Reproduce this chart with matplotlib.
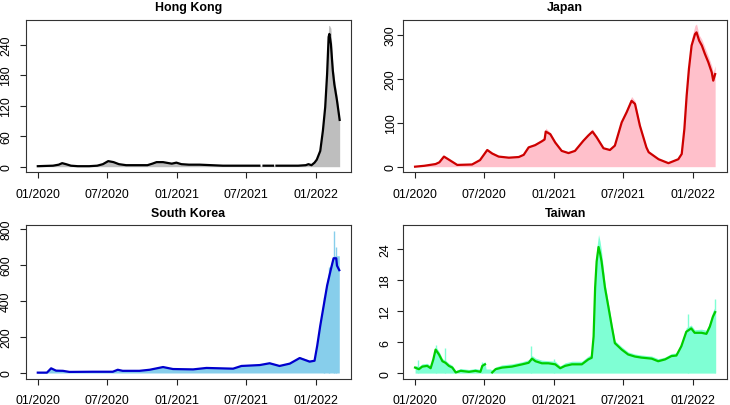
import numpy as np
import matplotlib
matplotlib.use("Agg")
import matplotlib.pyplot as plt

plt.rcParams['font.family'] = ['Liberation Sans', 'DejaVu Sans']

nan = np.nan

# ---------------- data ----------------
tick_dates = ['2020-01-01', '2020-07-01', '2021-01-01', '2021-07-01', '2022-01-01']
tick_labels = ['01/2020', '07/2020', '01/2021', '07/2021', '01/2022']

# Hong Kong
hk_dates = ['2020-01-01', '2020-01-20', '2020-02-10', '2020-02-25', '2020-03-05', '2020-03-15',
            '2020-03-28', '2020-04-15', '2020-05-15', '2020-06-05', '2020-06-20', '2020-07-04',
            '2020-07-18', '2020-08-01', '2020-08-20', '2020-09-15', '2020-10-15', '2020-10-28',
            '2020-11-08', '2020-11-25', '2020-12-10', '2020-12-18', '2020-12-30', '2021-01-12',
            '2021-02-01', '2021-03-01', '2021-04-01', '2021-05-01', '2021-06-01', '2021-07-01',
            '2021-08-05', '2021-08-10', '2021-08-16', '2021-09-10', '2021-09-15', '2021-09-19',
            '2021-10-15', '2021-11-15', '2021-12-05', '2021-12-12', '2021-12-20', '2021-12-28',
            '2022-01-03', '2022-01-12', '2022-01-19', '2022-01-25', '2022-01-30', '2022-02-03',
            '2022-02-05', '2022-02-09', '2022-02-14', '2022-02-18', '2022-02-25', '2022-03-04']
hk_line = [1, 1.5, 2, 4, 7, 5,
           2, 1, 1, 2, 5, 11,
           9, 5, 3, 3, 3, 6,
           9, 9, 7, 6, 8, 5,
           4, 4, 3, 2, 2, 2,
           2, nan, 2, 2, nan, 2,
           2, 2, 3, 5, 3, 8,
           14, 31, 71, 117, 182, 255,
           261, 241, 189, 162, 130, 92]
hk_bars = [1, 2, 2.5, 5, 8, 6,
           3, 1.5, 1.5, 3, 6, 12,
           10, 6, 4, 3.5, 4, 7,
           10, 10, 8, 7, 9, 6,
           5, 5, 4, 2.5, 2.5, 2.5,
           2.5, 1, 2.5, 2.5, 1, 2.5,
           2.5, 2.5, 3.5, 6, 4, 9,
           15, 33, 75, 125, 195, 277,
           278, 272, 200, 175, 140, 92]

# Japan
jp_dates = ['2020-01-01', '2020-01-25', '2020-02-24', '2020-03-05', '2020-03-17', '2020-03-30',
            '2020-04-21', '2020-05-30', '2020-06-20', '2020-07-09', '2020-07-22', '2020-08-08',
            '2020-09-04', '2020-09-30', '2020-10-13', '2020-10-26', '2020-11-12', '2020-11-30',
            '2020-12-07', '2020-12-10', '2020-12-22', '2021-01-04', '2021-01-21', '2021-02-08',
            '2021-02-25', '2021-03-19', '2021-04-01', '2021-04-12', '2021-04-23', '2021-05-11',
            '2021-05-28', '2021-06-10', '2021-06-28', '2021-07-11', '2021-07-24', '2021-08-02',
            '2021-08-15', '2021-09-01', '2021-09-07', '2021-10-03', '2021-10-29', '2021-11-24',
            '2021-12-03', '2021-12-10', '2021-12-16', '2021-12-22', '2021-12-29', '2022-01-07',
            '2022-01-11', '2022-01-18', '2022-01-25', '2022-02-02', '2022-02-11', '2022-02-20',
            '2022-02-24', '2022-03-01']
jp_line = [0, 2, 6, 10, 23, 16,
           4, 5, 15, 38, 30, 23,
           20.5, 22, 27, 44, 49, 58,
           62, 80, 74, 55, 36, 31,
           36, 59, 71, 80, 67, 42,
           38, 48, 101, 124, 150, 143,
           93, 44, 33, 17, 8, 17,
           29, 86, 162, 223, 276, 302,
           306, 287, 276, 257, 238, 215,
           196, 211]
jp_bars = [1, 3, 7, 11, 26, 18,
           5, 6, 17, 41, 33, 25,
           22, 24, 29, 47, 53, 62,
           70, 88, 78, 58, 38, 33,
           38, 63, 75, 86, 70, 44,
           40, 51, 108, 132, 160, 150,
           97, 46, 35, 18, 9, 18,
           31, 92, 172, 236, 292, 322,
           325, 300, 290, 272, 252, 230,
           215, 230]

# South Korea
kr_dates = ['2020-01-01', '2020-01-25', '2020-02-05', '2020-02-18', '2020-03-07', '2020-03-24',
            '2020-05-25', '2020-07-16', '2020-07-29', '2020-08-11', '2020-09-24', '2020-10-21',
            '2020-11-25', '2020-12-21', '2021-02-12', '2021-03-19', '2021-05-28', '2021-06-19',
            '2021-08-06', '2021-09-01', '2021-09-27', '2021-10-24', '2021-11-19', '2021-12-15',
            '2021-12-28', '2022-01-04', '2022-01-12', '2022-01-21', '2022-01-30', '2022-02-08',
            '2022-02-16', '2022-02-23', '2022-02-25', '2022-03-03']
kr_line = [2, 2, 26, 13, 12, 6,
           7, 7, 18, 12, 12, 18,
           33, 22, 20, 28, 24, 39,
           44, 54, 39, 52, 83, 63,
           68, 151, 262, 373, 484, 567,
           636, 636, 595, 570]
kr_bars = [3, 3, 30, 15, 14, 7,
           8, 9, 21, 14, 14, 21,
           37, 25, 23, 31, 28, 44,
           48, 60, 44, 58, 90, 70,
           75, 165, 290, 415, 520, 600,
           650, 650, 650, 650]
kr_spike_dates = ['2022-01-22', '2022-02-04', '2022-02-16', '2022-02-23']
kr_spike_vals = [420, 590, 789, 697]

# Taiwan
tw_dates = ['2020-01-01', '2020-01-11', '2020-01-20', '2020-02-02', '2020-02-11', '2020-02-18',
            '2020-02-24', '2020-03-04', '2020-03-13', '2020-03-21', '2020-03-30', '2020-04-08',
            '2020-04-17', '2020-04-30', '2020-05-22', '2020-06-08', '2020-06-21', '2020-06-26',
            '2020-07-03', '2020-07-06', '2020-07-17', '2020-07-22', '2020-07-31', '2020-08-17',
            '2020-09-12', '2020-10-09', '2020-10-26', '2020-11-04', '2020-11-13', '2020-11-30',
            '2020-12-17', '2021-01-04', '2021-01-17', '2021-01-30', '2021-02-17', '2021-03-15',
            '2021-04-01', '2021-04-10', '2021-04-15', '2021-04-19', '2021-04-23', '2021-04-28',
            '2021-05-02', '2021-05-06', '2021-05-15', '2021-05-24', '2021-06-02', '2021-06-10',
            '2021-06-28', '2021-07-15', '2021-08-02', '2021-08-19', '2021-09-15', '2021-10-02',
            '2021-10-20', '2021-11-06', '2021-11-19', '2021-12-02', '2021-12-15', '2021-12-28',
            '2022-01-06', '2022-01-24', '2022-02-06', '2022-02-15', '2022-02-23', '2022-03-01']
tw_line = [1.07, 0.76, 1.26, 1.4, 0.95, 2.65,
           4.55, 3.6, 2.3, 2.0, 1.4, 1.07,
           0.13, 0.44, 0.25, 0.44, 0.25, 1.4,
           1.7, nan, nan, 0.13, 0.76, 1.07,
           1.26, 1.7, 2.0, 2.8, 2.3, 1.9,
           1.9, 1.7, 0.95, 1.4, 1.7, 1.7,
           2.65, 2.97, 7.1, 16.5, 21.6, 24.4,
           23.2, 21.6, 16.5, 12.8, 9.0, 5.8,
           4.55, 3.6, 3.2, 3.0, 2.8, 2.3,
           2.65, 3.3, 3.4, 5.2, 8.0, 8.65,
           7.8, 7.8, 7.6, 9.0, 10.9, 11.8]
tw_bars = [1.5, 1.3, 1.8, 1.9, 1.4, 3.2,
           5.2, 4.2, 2.8, 2.5, 1.9, 1.5,
           0.5, 0.9, 0.7, 0.9, 0.7, 1.9,
           2.2, 0.8, 0.8, 0.6, 1.2, 1.6,
           1.8, 2.2, 2.6, 3.4, 2.9, 2.5,
           2.4, 2.3, 1.4, 2.0, 2.3, 2.3,
           3.3, 3.6, 8.0, 18.0, 24.0, 26.8,
           25.5, 23.5, 17.5, 13.5, 9.6, 6.3,
           5.1, 4.1, 3.7, 3.5, 3.3, 2.8,
           3.1, 3.8, 3.9, 5.8, 8.8, 9.3,
           8.4, 8.5, 8.3, 9.8, 12.0, 12.8]
tw_spike_dates = ['2020-01-10', '2020-02-24', '2020-03-21', '2020-06-26', '2020-11-02',
                  '2020-12-31', '2021-12-20', '2022-02-28']
tw_spike_vals = [2.6, 5.5, 4.8, 2.2, 5.2, 2.8, 11.5, 14.3]

panels = [
    dict(title='Hong Kong', dates=hk_dates, line=hk_line, bars=hk_bars,
         spike_dates=[], spike_vals=[], yticks=[0, 60, 120, 180, 240],
         ylim=(-11, 289), fill='#BEBEBE', color='black',
         pos=[26/730, 1-173.3/406, 324.7/730, 152.6/406], ypad=5.5),
    dict(title='Japan', dates=jp_dates, line=jp_line, bars=jp_bars,
         spike_dates=[], spike_vals=[], yticks=[0, 100, 200, 300],
         ylim=(-12.8, 334.9), fill='#FFC0CB', color='#CD0000',
         pos=[403.3/730, 1-173.3/406, 324.0/730, 152.6/406], ypad=0.3),
    dict(title='South Korea', dates=kr_dates, line=kr_line, bars=kr_bars,
         spike_dates=kr_spike_dates, spike_vals=kr_spike_vals, yticks=[0, 200, 400, 600, 800],
         ylim=(-31.6, 818.8), fill='#87CEEB', color='#0000CD',
         pos=[26/730, 1-379.7/406, 324.7/730, 153.4/406], ypad=5.5),
    dict(title='Taiwan', dates=tw_dates, line=tw_line, bars=tw_bars,
         spike_dates=tw_spike_dates, spike_vals=tw_spike_vals, yticks=[0, 6, 12, 18, 24],
         ylim=(-1.08, 28.6), fill='#7FFFD4', color='#00CD00',
         pos=[403.3/730, 1-379.7/406, 324.0/730, 153.4/406], ypad=4.0),
]

fig = plt.figure(figsize=(7.30, 4.06), dpi=100)
start = np.datetime64('2020-01-01')
xt = np.array(tick_dates, dtype='datetime64[D]')

for p in panels:
    ax = fig.add_axes(p['pos'])
    d = np.array(p['dates'], dtype='datetime64[D]')
    ax.fill_between(d, 0, np.array(p['bars'], dtype=float), color=p['fill'], linewidth=0, zorder=1)
    if len(p['spike_dates']):
        sd = np.array(p['spike_dates'], dtype='datetime64[D]')
        ax.vlines(sd, 0, p['spike_vals'], color=p['fill'], linewidth=1.0, zorder=1)
    ax.plot(d, np.array(p['line'], dtype=float), color=p['color'], linewidth=1.6, zorder=2)
    ax.set_xlim(start - np.timedelta64(31, 'D'), start + np.timedelta64(822, 'D'))
    ax.set_ylim(*p['ylim'])
    ax.set_xticks(xt)
    ax.set_xticklabels(tick_labels)
    ax.set_yticks(p['yticks'])
    ax.set_yticklabels([str(v) for v in p['yticks']], rotation=90, va='center')
    ax.tick_params(axis='both', direction='out', length=4.5, width=0.8, colors='#222222',
                   labelsize=8.9, labelcolor='black')
    ax.tick_params(axis='x', pad=6.8)
    ax.tick_params(axis='y', pad=p['ypad'])
    for s in ax.spines.values():
        s.set_linewidth(0.8)
        s.set_color('#333333')
    ax.set_title(p['title'], fontsize=8.9, fontweight='bold', pad=7)

fig.savefig('out.png', dpi=100)
